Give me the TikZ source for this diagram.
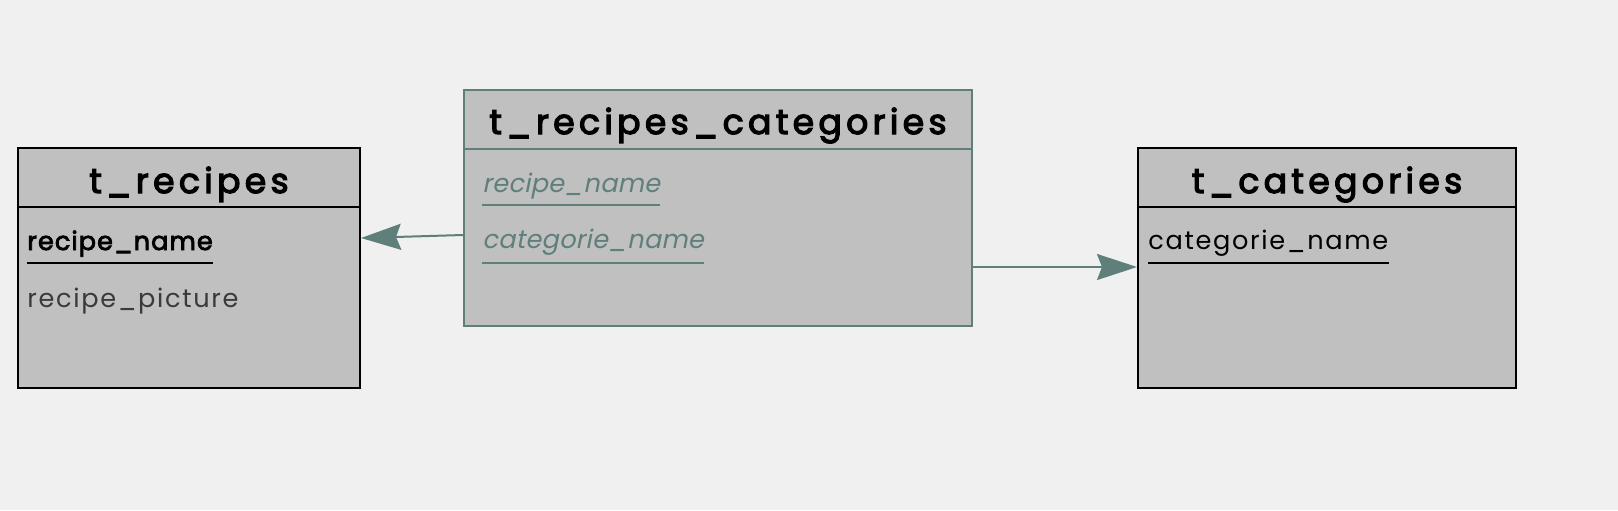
\documentclass[tikz,border=0pt]{standalone}
\usepackage{fontspec}
\setmainfont{Poppins}[AutoFakeSlant=0.2]
\newfontfamily\ttlfont[LetterSpace=12.5,FakeBold=3.5]{Poppins}
\newfontfamily\fldfont[LetterSpace=6.5,AutoFakeSlant=0.2]{Poppins}
\newfontfamily\fldkey[LetterSpace=4,FakeBold=3]{Poppins}
\newfontfamily\fldtight[LetterSpace=1,AutoFakeSlant=0.2]{Poppins}
\usetikzlibrary{arrows.meta,calc}
\definecolor{bg}{HTML}{F0F0F0}
\definecolor{boxgray}{HTML}{C0C0C0}
\definecolor{teal}{HTML}{5F7F7B}
\definecolor{dimtext}{HTML}{3A3A3A}
\begin{document}
\begin{tikzpicture}[x=0.5pt,y=-0.5pt,
  tbl/.style={draw, line width=1pt, fill=boxgray, rectangle, inner sep=0pt, anchor=north west},
  ttl/.style={anchor=base, inner sep=0pt, font=\ttlfont\fontsize{17.3}{20}\selectfont},
  fld/.style={anchor=base west, inner sep=0pt, font=\fldfont\fontsize{12.8}{15}\selectfont},
  keyfld/.style={fld, font=\fldkey\fontsize{12.8}{15}\selectfont},
  fkfld/.style={fld, text=teal, font=\fldtight\itshape\fontsize{12.8}{15}\selectfont},
  conn/.style={draw=teal, line width=1pt, -{Stealth[length=20pt,width=13pt,inset=2.5pt]}, fill=teal}
]
\path[fill=bg] (0,0) rectangle (1618,510);

% t_recipes
\node[tbl, minimum width=171pt, minimum height=120pt] (rec) at (17,147) {};
\draw[line width=1pt] ($(rec.north west)+(0,60)$) -- ($(rec.north east)+(0,60)$);
\node[ttl] (rect) at ($(rec.north)+(0,46)$) {t\_recipes};
\node[keyfld] (recf1) at ($(rec.north west)+(10,103)$) {recipe\_name};
\draw[line width=1pt] ($(recf1.base west)+(0,13)$) -- ($(recf1.base east)+(0,13)$);
\node[fld, text=dimtext] (recf2) at ($(rec.north west)+(10,160)$) {recipe\_picture};

% t_recipes_categories
\node[tbl, draw=teal, minimum width=254pt, minimum height=118pt] (rc) at (463,89) {};
\draw[teal, line width=1pt] ($(rc.north west)+(0,60)$) -- ($(rc.north east)+(0,60)$);
\node[ttl] (rct) at ($(rc.north)+(0,45)$) {t\_recipes\_categories};
\node[fkfld] (rcf1) at ($(rc.north west)+(19,103)$) {recipe\_name};
\draw[teal, line width=1pt] ($(rcf1.base west)+(0,13)$) -- ($(rcf1.base east)+(0,13)$);
\node[fkfld] (rcf2) at ($(rc.north west)+(19,159)$) {categorie\_name};
\draw[teal, line width=1pt] ($(rcf2.base west)+(0,15)$) -- ($(rcf2.base east)+(0,15)$);

% t_categories
\node[tbl, minimum width=189pt, minimum height=120pt] (cat) at (1137,147) {};
\draw[line width=1pt] ($(cat.north west)+(0,60)$) -- ($(cat.north east)+(0,60)$);
\node[ttl] (catt) at ($(cat.north)+(0,46)$) {t\_categories};
\node[fld] (catf1) at ($(cat.north west)+(11,102)$) {categorie\_name};
\draw[line width=1pt] ($(catf1.base west)+(0,14)$) -- ($(catf1.base east)+(0,14)$);

% connectors
\draw[conn] ($(rc.north west)+(0,146)$) -- ($(rec.north east)+(0,91)$);
\draw[conn] ($(rc.north east)+(0,178)$) -- ($(cat.north west)+(0,120)$);
\end{tikzpicture}
\end{document}
